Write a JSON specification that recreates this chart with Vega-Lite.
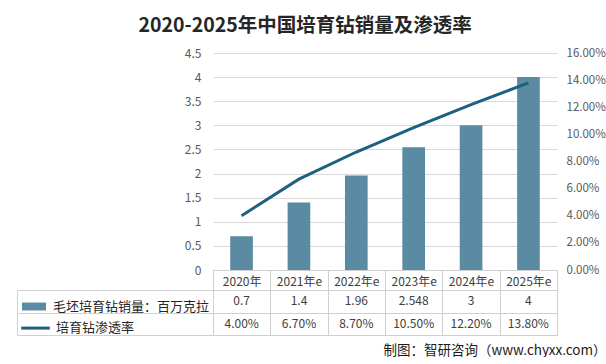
{
  "$schema": "https://vega.github.io/schema/vega-lite/v6.json",
  "padding": {"left": 16, "top": 15, "right": 0, "bottom": 0},
  "background": "white",
  "title": {
    "text": "2020-2025年中国培育钻销量及渗透率",
    "font": "Noto Sans CJK SC",
    "fontSize": 19.5,
    "fontWeight": "bold",
    "color": "#262626",
    "anchor": "start",
    "dx": 122,
    "offset": 11
  },
  "datasets": {
    "d": [
      {"year": "2020年", "sales": 0.7, "rate": 0.04},
      {"year": "2021年e", "sales": 1.4, "rate": 0.067},
      {"year": "2022年e", "sales": 1.96, "rate": 0.087},
      {"year": "2023年e", "sales": 2.548, "rate": 0.105},
      {"year": "2024年e", "sales": 3, "rate": 0.122},
      {"year": "2025年e", "sales": 4, "rate": 0.138}
    ]
  },
  "bounds": "flush",
  "spacing": 20,
  "vconcat": [
    {
      "width": 344,
      "height": 217,
      "data": {"name": "d"},
      "layer": [
        {
          "mark": {"type": "bar"},
          "encoding": {
            "x": {
              "field": "year", "type": "nominal", "sort": null,
              "scale": {"type": "band", "paddingInner": 0.605, "paddingOuter": 0.3},
              "axis": {"title": null, "labels": false, "ticks": false, "grid": false, "domain": true, "domainColor": "#d0d0d0"}
            },
            "y": {
              "field": "sales", "type": "quantitative",
              "scale": {"domain": [0, 4.5], "nice": false},
              "axis": {
                "title": null, "values": [0, 0.5, 1, 1.5, 2, 2.5, 3, 3.5, 4, 4.5], "format": "~g",
                "grid": true, "gridColor": "#d9d9d9", "domain": false, "ticks": false,
                "labelPadding": 12, "labelFontSize": 12, "labelColor": "#595959",
                "labelFont": "Noto Sans CJK SC"
              }
            },
            "fill": {
              "datum": "毛坯培育钻销量：百万克拉",
              "type": "nominal",
              "scale": {"range": ["#5a8ba3"]},
              "legend": {
                "orient": "none",
                "legendX": -190,
                "legendY": 242.5,
                "title": null,
                "padding": 0,
                "labelFont": "Noto Sans CJK SC",
                "labelFontSize": 13,
                "labelColor": "#262626",
                "labelOffset": 8,
                "labelLimit": 300,
                "symbolSize": 484,
                "symbolType": "M-1.09,-0.36H1.09V0.36H-1.09Z",
                "symbolStrokeWidth": 0,
                "symbolOpacity": 1
              }
            }
          }
        },
        {
          "mark": {"type": "line", "strokeWidth": 3},
          "encoding": {
            "x": {"field": "year", "type": "nominal", "sort": null},
            "y": {
              "field": "rate", "type": "quantitative",
              "scale": {"domain": [0, 0.16], "nice": false},
              "axis": {
                "title": null, "orient": "right", "format": ".2%",
                "values": [0, 0.02, 0.04, 0.06, 0.08, 0.1, 0.12, 0.14, 0.16],
                "grid": false, "domain": false, "ticks": false,
                "labelPadding": 9, "labelFontSize": 11.5, "labelColor": "#595959",
                "labelFont": "Noto Sans CJK SC"
              }
            },
            "stroke": {
              "datum": "培育钻渗透率",
              "type": "nominal",
              "scale": {"range": ["#1d6080"]},
              "legend": {
                "orient": "none",
                "legendX": -190,
                "legendY": 262.6,
                "title": null,
                "padding": 0,
                "labelFont": "Noto Sans CJK SC",
                "labelFontSize": 13,
                "labelColor": "#262626",
                "labelOffset": 8,
                "labelLimit": 300,
                "symbolSize": 484,
                "symbolType": "M-1.3,0H1.3",
                "symbolStrokeWidth": 3,
                "symbolOpacity": 1
              }
            }
          }
        }
      ],
      "resolve": {"scale": {"y": "independent"}, "axis": {"y": "independent"}}
    },
    {
      "width": 344,
      "height": 45,
      "data": {"name": "d"},
      "transform": [{"fold": ["sales", "rate"], "as": ["key", "value"]}],
      "title": {
        "text": "制图：智研咨询（www.chyxx.com）",
        "orient": "bottom",
        "anchor": "end",
        "font": "Noto Sans CJK SC",
        "fontSize": 13.5,
        "fontWeight": "normal",
        "color": "#1a1a1a",
        "dx": 49,
        "offset": 8
      },
      "encoding": {
        "x": {
          "field": "year", "type": "nominal", "sort": null,
          "scale": {"type": "band", "paddingInner": 0, "paddingOuter": 0},
          "axis": {
            "title": null, "orient": "top", "tickBand": "extent", "tickSize": 20,
            "tickColor": "#d0d0d0", "domainColor": "#d0d0d0", "grid": true, "gridColor": "#d0d0d0",
            "labelAngle": 0, "labelPadding": -18, "labelFontSize": 12, "labelColor": "#404040",
            "labelFont": "Noto Sans CJK SC"
          }
        },
        "y": {
          "field": "key", "type": "nominal",
          "scale": {"type": "band", "domain": ["sales", "rate"], "paddingInner": 0, "paddingOuter": 0},
          "axis": {
            "title": null, "labels": false, "offset": 196, "tickSize": -196, "tickBand": "extent",
            "tickColor": "#d0d0d0", "domainColor": "#d0d0d0", "grid": true, "gridColor": "#d0d0d0"
          }
        }
      },
      "layer": [
        {
          "transform": [{"filter": "datum.key === 'sales'"}],
          "mark": {"type": "text", "fontSize": 12, "color": "#404040", "font": "Noto Sans CJK SC"},
          "encoding": {
            "text": {"field": "value", "type": "quantitative"}
          }
        },
        {
          "transform": [{"filter": "datum.key === 'rate'"}],
          "mark": {"type": "text", "fontSize": 12, "color": "#404040", "font": "Noto Sans CJK SC"},
          "encoding": {
            "text": {"field": "value", "type": "quantitative", "format": ".2%"}
          }
        }
      ]
    }
  ],
  "resolve": {"scale": {"x": "independent", "y": "independent"}},
  "config": {
    "view": {"stroke": null},
    "font": "Noto Sans CJK SC"
  }
}
